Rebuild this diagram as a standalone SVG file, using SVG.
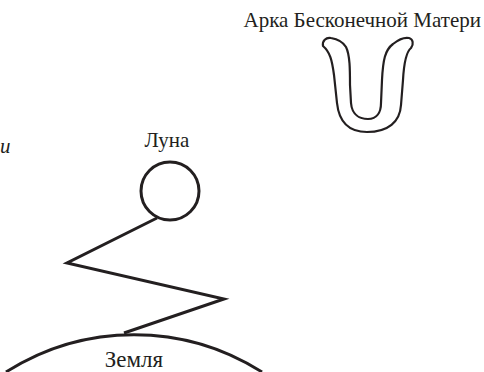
<svg xmlns="http://www.w3.org/2000/svg" width="484" height="372" viewBox="0 0 484 372">
<style>
text{font-family:"Liberation Serif","Times New Roman",serif;font-size:21px;fill:#231f20}
.ln{fill:none;stroke:#231f20;stroke-width:3;stroke-linejoin:miter}
.u{fill:#fff;stroke:#231f20;stroke-width:2.2}
</style>
<rect width="484" height="372" fill="#fff"/>
<g id="label-i"><text x="0" y="153" font-style="italic">и</text></g>
<g id="arch">
<text x="481" y="27" text-anchor="end">Арка Бесконечной Матери</text>
<path class="u" d="M323,46 C322,41 326,37 331,38 C337,39 343,42 346,47 C350,55 350,70 350,85 L351,103 C352,115 360,119 368,119 C377,119 381,112 381,103 L382,80 C383,60 385,50 393,44 C398,40 404,37 409,38 C413,39 414,44 411,48 C406,52 404,62 403,80 L401,105 C400,122 388,132 367,132 C348,132 339,122 337,103 L334,75 C332,60 330,52 323,46 Z"/>
</g>
<g id="moon">
<text x="167" y="147" text-anchor="middle">Луна</text>
<circle class="ln" cx="170" cy="191" r="29"/>
</g>
<g id="earth">
<path class="ln" d="M6,372 A238,238 0 0 1 262,372"/>
<text x="134" y="367" text-anchor="middle" style="font-size:23px">Земля</text>
</g>
<g id="connectors">
<polyline class="ln" points="157,218 67,263 224,299 124,333"/>
</g>
</svg>
